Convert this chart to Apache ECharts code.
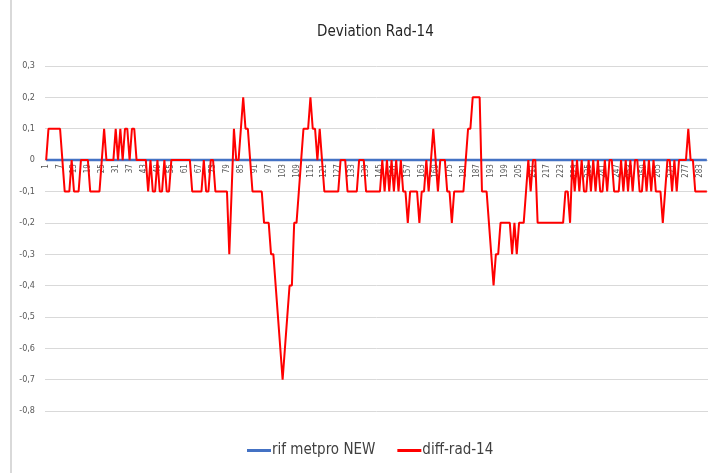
<!DOCTYPE html>
<html>
<head>
<meta charset="utf-8">
<script src="https://cdn.jsdelivr.net/npm/echarts@6/dist/echarts.min.js"></script>
<style>
  html, body { margin: 0; padding: 0; background: #fff; }
  #chart { width: 708px; height: 473px; }
</style>
</head>
<body>
<div id="chart"></div>
<script>
// categorie 1..286 (numero misura)
var categories = []
for (var i = 1; i <= 286; i++) categories.push(String(i))

// riferimento: sempre zero
var rifMetpro = [
  0, 0, 0, 0, 0, 0, 0, 0, 0, 0, 0, 0, 0, 0, 0, 0, 0, 0, 0, 0,
  0, 0, 0, 0, 0, 0, 0, 0, 0, 0, 0, 0, 0, 0, 0, 0, 0, 0, 0, 0,
  0, 0, 0, 0, 0, 0, 0, 0, 0, 0, 0, 0, 0, 0, 0, 0, 0, 0, 0, 0,
  0, 0, 0, 0, 0, 0, 0, 0, 0, 0, 0, 0, 0, 0, 0, 0, 0, 0, 0, 0,
  0, 0, 0, 0, 0, 0, 0, 0, 0, 0, 0, 0, 0, 0, 0, 0, 0, 0, 0, 0,
  0, 0, 0, 0, 0, 0, 0, 0, 0, 0, 0, 0, 0, 0, 0, 0, 0, 0, 0, 0,
  0, 0, 0, 0, 0, 0, 0, 0, 0, 0, 0, 0, 0, 0, 0, 0, 0, 0, 0, 0,
  0, 0, 0, 0, 0, 0, 0, 0, 0, 0, 0, 0, 0, 0, 0, 0, 0, 0, 0, 0,
  0, 0, 0, 0, 0, 0, 0, 0, 0, 0, 0, 0, 0, 0, 0, 0, 0, 0, 0, 0,
  0, 0, 0, 0, 0, 0, 0, 0, 0, 0, 0, 0, 0, 0, 0, 0, 0, 0, 0, 0,
  0, 0, 0, 0, 0, 0, 0, 0, 0, 0, 0, 0, 0, 0, 0, 0, 0, 0, 0, 0,
  0, 0, 0, 0, 0, 0, 0, 0, 0, 0, 0, 0, 0, 0, 0, 0, 0, 0, 0, 0,
  0, 0, 0, 0, 0, 0, 0, 0, 0, 0, 0, 0, 0, 0, 0, 0, 0, 0, 0, 0,
  0, 0, 0, 0, 0, 0, 0, 0, 0, 0, 0, 0, 0, 0, 0, 0, 0, 0, 0, 0,
  0, 0, 0, 0, 0, 0
]

// diff-rad-14
var diffRad14 = [
  0, 0.1, 0.1, 0.1, 0.1, 0.1, 0.1, 0, -0.1, -0.1,
  -0.1, 0, -0.1, -0.1, -0.1, 0, 0, 0, 0, -0.1,
  -0.1, -0.1, -0.1, -0.1, 0, 0.1, 0, 0, 0, 0,
  0.1, 0, 0.1, 0, 0.1, 0.1, 0, 0.1, 0.1, 0,
  0, 0, 0, 0, -0.1, 0, -0.1, -0.1, 0, -0.1,
  -0.1, 0, -0.1, -0.1, 0, 0, 0, 0, 0, 0,
  0, 0, 0, -0.1, -0.1, -0.1, -0.1, -0.1, 0, -0.1,
  -0.1, 0, 0, -0.1, -0.1, -0.1, -0.1, -0.1, -0.1, -0.3,
  -0.1, 0.1, 0, 0, 0.1, 0.2, 0.1, 0.1, 0, -0.1,
  -0.1, -0.1, -0.1, -0.1, -0.2, -0.2, -0.2, -0.3, -0.3, -0.4,
  -0.5, -0.6, -0.7, -0.6, -0.5, -0.4, -0.4, -0.2, -0.2, -0.1,
  0, 0.1, 0.1, 0.1, 0.2, 0.1, 0.1, 0, 0.1, 0,
  -0.1, -0.1, -0.1, -0.1, -0.1, -0.1, -0.1, 0, 0, 0,
  -0.1, -0.1, -0.1, -0.1, -0.1, 0, 0, 0, -0.1, -0.1,
  -0.1, -0.1, -0.1, -0.1, -0.1, 0, -0.1, 0, -0.1, 0,
  -0.1, 0, -0.1, 0, -0.1, -0.1, -0.2, -0.1, -0.1, -0.1,
  -0.1, -0.2, -0.1, -0.1, 0, -0.1, 0, 0.1, 0, -0.1,
  0, 0, 0, -0.1, -0.1, -0.2, -0.1, -0.1, -0.1, -0.1,
  -0.1, 0, 0.1, 0.1, 0.2, 0.2, 0.2, 0.2, -0.1, -0.1,
  -0.1, -0.2, -0.3, -0.4, -0.3, -0.3, -0.2, -0.2, -0.2, -0.2,
  -0.2, -0.3, -0.2, -0.3, -0.2, -0.2, -0.2, -0.1, 0, -0.1,
  0, 0, -0.2, -0.2, -0.2, -0.2, -0.2, -0.2, -0.2, -0.2,
  -0.2, -0.2, -0.2, -0.2, -0.1, -0.1, -0.2, 0, -0.1, 0,
  -0.1, 0, -0.1, -0.1, 0, -0.1, 0, -0.1, 0, -0.1,
  -0.1, 0, -0.1, 0, 0, -0.1, -0.1, -0.1, 0, -0.1,
  0, -0.1, 0, -0.1, 0, 0, -0.1, -0.1, 0, -0.1,
  0, -0.1, 0, -0.1, -0.1, -0.1, -0.2, -0.1, 0, 0,
  -0.1, 0, -0.1, 0, 0, 0, 0, 0.1, 0, 0,
  -0.1, -0.1, -0.1, -0.1, -0.1, -0.1
]

var yTicks = { min: -0.8, max: 0.3, interval: 0.1 }

var gridTop = 66
var gridBottom = 62
var plotHeight = 473 - gridTop - gridBottom
// sposta l'asse categorie sulla linea dello zero
var zeroOffset = -plotHeight * (0 - yTicks.min) / (yTicks.max - yTicks.min)

var myChart = echarts.init(document.getElementById('chart'))
var fontNarrow = '"Liberation Sans Narrow", "DejaVu Sans Condensed", sans-serif'

var option = {
  backgroundColor: '#fff',
  animation: false,
  title: {
    text: 'Deviation Rad-14',
    left: 312,
    top: 20,
    textStyle: {
      color: '#262626',
      fontSize: 15,
      fontWeight: 'normal',
      fontFamily: fontNarrow
    }
  },
  legend: {
    bottom: 10,
    left: 242,
    itemWidth: 24,
    itemHeight: 3,
    itemGap: 22,
    icon: 'rect',
    textStyle: {
      color: '#404040',
      fontSize: 15,
      fontFamily: fontNarrow,
      padding: [0, 0, 0, -4]
    },
    data: ['rif metpro NEW', 'diff-rad-14']
  },
  grid: {
    left: 45,
    right: 0,
    top: gridTop,
    bottom: gridBottom
  },
  graphic: [
    { // bordo sinistro del riquadro
      type: 'rect',
      shape: { x: 10, y: 0, width: 2, height: 473 },
      style: { fill: '#d9d9d9' },
      silent: true
    }
  ],
  xAxis: {
    type: 'category',
    data: categories,
    boundaryGap: true,
    offset: zeroOffset,
    axisLine: { onZero: false, lineStyle: { color: '#d9d9d9' } },
    axisTick: { show: false },
    axisLabel: {
      interval: 5,
      rotate: 90,
      margin: 4,
      fontSize: 8,
      color: '#595959',
      fontFamily: fontNarrow
    }
  },
  yAxis: {
    type: 'value',
    min: yTicks.min,
    max: yTicks.max,
    interval: yTicks.interval,
    axisLine: { show: false },
    axisTick: { show: false },
    splitLine: { lineStyle: { color: '#d9d9d9', width: 1 } },
    axisLabel: {
      margin: 10,
      fontSize: 9,
      color: '#595959',
      fontFamily: fontNarrow,
      formatter: function (v) {
        var r = Math.round(v * 10) / 10
        if (r === 0) return '0'
        return r.toFixed(1).replace('.', ',')
      }
    }
  },
  series: [
    {
      name: 'rif metpro NEW',
      type: 'line',
      data: rifMetpro,
      symbol: 'none',
      lineStyle: { color: '#4472C4', width: 2.5 },
      itemStyle: { color: '#4472C4' }
    },
    {
      name: 'diff-rad-14',
      type: 'line',
      data: diffRad14,
      symbol: 'none',
      lineStyle: { color: '#FF0000', width: 2 },
      itemStyle: { color: '#FF0000' }
    }
  ]
}
myChart.setOption(option)
</script>
</body>
</html>
